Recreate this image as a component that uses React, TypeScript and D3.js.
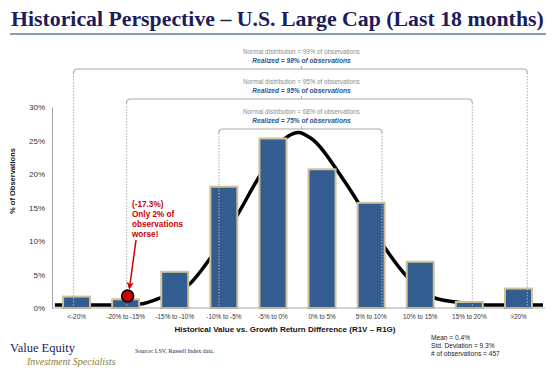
import { useRef, useEffect } from 'react'
import * as d3 from 'd3'

// categories on the x axis and % of observations per bucket
const categories = ['<-20%', '-20% to -15%', '-15% to -10%', '-10% to -5%', '-5% to 0%',
  '0% to 5%', '5% to 10%', '10% to 15%', '15% to 20%', '>20%']
const observations = [1.7, 1.3, 5.4, 18.1, 25.3, 20.7, 15.7, 6.9, 0.9, 2.9]
const yTicks = [0, 5, 10, 15, 20, 25, 30]

// normal curve (return %, % of observations)
const curveReturn = [-24.7, -18.8, -16.0, -13.8, -10.9, -8.8, -6.0, -4.1, -1.0, 0.1, 1.3, 4.7, 6.2, 8.9, 11.2, 13.8, 16.1, 18.9, 25.0]
const curvePct = [0.45, 0.45, 0.6, 1.6, 3.7, 7.6, 14.2, 19.1, 25.6, 26.2, 25.4, 19.1, 15.7, 9.0, 4.6, 1.6, 0.9, 0.45, 0.45]

// brackets (outer to inner)
const bracketLow = [-22.8, -17.4, -8.0]
const bracketHigh = [23.4, 17.8, 8.6]
const bracketNormal = ['99%', '95%', '68%']
const bracketRealized = ['98%', '95%', '75%']

const mean = 0.4
const worst = { ret: -17.3, pct: 1.8 }
const noteLines = ['(-17.3%)', 'Only 2% of', 'observations', 'worse!']
const statLines = ['Mean  = 0.4%', 'Std. Deviation  = 9.3%', '# of observations  = 457']

const SANS = '"Liberation Sans", Arial, sans-serif'
const SERIF = '"Liberation Serif", "Times New Roman", serif'

function App() {
  const ref = useRef<SVGSVGElement>(null)

  useEffect(() => {
    const svg = d3.select(ref.current)
    svg.selectAll('*').remove()

    const x = d3.scaleBand().domain(categories).range([52, 543]).paddingInner(0.45).paddingOuter(0.225)
    const xr = d3.scaleLinear().domain([-25, 25]).range([52, 543])
    const y = d3.scaleLinear().domain([0, 30]).range([308, 107])

    // title
    svg.append('text')
      .attr('x', 11).attr('y', 26)
      .text('Historical Perspective – U.S. Large Cap (Last 18 months)')
      .style('font', `bold 21.8px ${SERIF}`)
      .attr('fill', '#1c1c5a')
    svg.append('line')
      .attr('x1', 10).attr('x2', 546).attr('y1', 34).attr('y2', 34)
      .attr('stroke', '#8e9bb5').attr('stroke-width', 2)

    // normal curve (behind bars)
    const line = d3.line<number>()
      .x((d, i) => xr(curveReturn[i]))
      .y(d => y(d))
      .curve(d3.curveMonotoneX)
    svg.append('path')
      .attr('d', line(curvePct))
      .attr('fill', 'none').attr('stroke', '#000').attr('stroke-width', 3.5)

    // bars
    svg.selectAll('rect.bar')
      .data(observations)
      .enter()
      .append('rect')
      .attr('class', 'bar')
      .attr('x', (d, i) => x(categories[i]))
      .attr('y', d => y(d))
      .attr('width', x.bandwidth())
      .attr('height', d => y(0) - y(d))
      .attr('fill', '#335d90')
      .attr('stroke', '#cdc298')
      .attr('stroke-width', 2)

    // axes
    const gy = svg.append('g')
      .attr('transform', `translate(${52},0)`)
      .call(d3.axisLeft(y).tickValues(yTicks).tickFormat(d => d + '%').tickSize(0).tickPadding(7))
    gy.select('.domain').attr('stroke', '#a6a6a6')
    gy.selectAll('text').style('font', `8px ${SANS}`).attr('fill', '#333')

    const gx = svg.append('g')
      .attr('transform', `translate(0,${308})`)
      .call(d3.axisBottom(x).tickSize(0).tickPadding(6))
    gx.select('.domain').attr('stroke', '#a6a6a6').attr('d', 'M52,0H545')
    gx.selectAll('text').style('font', `6.4px ${SANS}`).attr('fill', '#333')

    svg.append('text')
      .attr('transform', 'translate(15,181) rotate(-90)')
      .style('text-anchor', 'middle')
      .text('% of Observations')
      .style('font', `bold 7.5px ${SANS}`)
      .attr('fill', '#111')
    svg.append('text')
      .attr('x', 285).attr('y', 332)
      .style('text-anchor', 'middle')
      .text('Historical Value vs. Growth Return Difference (R1V – R1G)')
      .style('font', `bold 8px ${SANS}`)
      .attr('fill', '#111')

    // brackets
    const bracketY = [69, 99, 129]
    bracketLow.forEach((lo, i) => {
      const x1 = xr(lo), x2 = xr(bracketHigh[i]), xm = xr(mean), by = bracketY[i]
      svg.append('path')
        .attr('d', `M${x1},${by + 4} Q${x1},${by} ${x1 + 4},${by} H${x2 - 4} Q${x2},${by} ${x2},${by + 4}`)
        .attr('fill', 'none').attr('stroke', '#a9a9a9').attr('stroke-width', 1.2)
      svg.append('line')
        .attr('x1', xm).attr('x2', xm).attr('y1', by).attr('y2', by - 3)
        .attr('stroke', '#a9a9a9').attr('stroke-width', 1)
      ;[x1, x2].forEach(xx => {
        svg.append('line')
          .attr('x1', xx).attr('x2', xx).attr('y1', by + 4).attr('y2', 308)
          .attr('stroke', '#ababab').attr('stroke-width', 1).attr('stroke-dasharray', '1.5,1.5')
      })
      svg.append('text')
        .attr('x', xm).attr('y', by - 15)
        .style('text-anchor', 'middle')
        .text(`Normal  distribution  = ${bracketNormal[i]} of observations`)
        .style('font', `6.3px ${SANS}`)
        .attr('fill', '#8c8c8c')
      svg.append('text')
        .attr('x', xm).attr('y', by - 6.5)
        .style('text-anchor', 'middle')
        .text(`Realized = ${bracketRealized[i]} of observations`)
        .style('font', `italic bold 6.6px ${SANS}`)
        .attr('fill', '#2a5590')
    })

    // worst-case marker and note
    svg.append('defs').append('marker')
      .attr('id', 'arrow').attr('viewBox', '0 0 10 10')
      .attr('refX', 8).attr('refY', 5)
      .attr('markerWidth', 5).attr('markerHeight', 5)
      .attr('orient', 'auto')
      .append('path').attr('d', 'M0,0 L10,5 L0,10 L3,5 Z').attr('fill', '#cc0000')
    svg.append('line')
      .attr('x1', 136).attr('y1', 240).attr('x2', 129.5).attr('y2', 288)
      .attr('stroke', '#cc0000').attr('stroke-width', 1.5)
      .attr('marker-end', 'url(#arrow)')
    svg.append('circle')
      .attr('cx', xr(worst.ret)).attr('cy', y(worst.pct)).attr('r', 6)
      .attr('fill', '#cc0000').attr('stroke', '#000').attr('stroke-width', 1.5)
    noteLines.forEach((t, i) => {
      svg.append('text')
        .attr('x', 132).attr('y', 207 + i * 10)
        .text(t)
        .style('font', `bold 8.2px ${SANS}`)
        .attr('fill', '#cc0000')
    })

    // stats
    statLines.forEach((t, i) => {
      svg.append('text')
        .attr('x', 431).attr('y', 340 + i * 7.8)
        .text(t)
        .style('font', `6.6px ${SANS}`)
        .attr('fill', '#222')
    })

    // footer
    svg.append('text')
      .attr('x', 135).attr('y', 353)
      .text('Source: LSV,  Russell Index data.')
      .style('font', `6px ${SERIF}`)
      .attr('fill', '#1c1c5a')
    svg.append('text')
      .attr('x', 10).attr('y', 352)
      .text('Value Equity')
      .style('font', `12.5px ${SERIF}`)
      .attr('fill', '#1c1c5a')
    svg.append('text')
      .attr('x', 27).attr('y', 365)
      .text('Investment Specialists')
      .style('font', `italic 10px ${SERIF}`)
      .attr('fill', '#8a7d3c')
  }, [])

  return (
    <svg ref={ref} width={556} height={370}
      style={{ position: 'absolute', left: 0, top: 0, background: '#fff' }}>
    </svg>
  )
}

export default App
